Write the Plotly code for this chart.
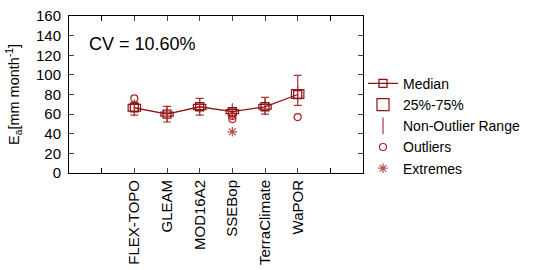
import plotly.graph_objects as go

categories = ["FLEX-TOPO", "GLEAM", "MOD16A2", "SSEBop", "TerraClimate", "WaPOR"]
median = [66.5, 60, 67.5, 62.5, 67.5, 80]
q1 = [63, 58, 64.5, 60.5, 65, 76]
q3 = [70, 62, 70, 64.5, 70, 85]
whisker_lo = [59, 52, 59, 57, 60, 69]
whisker_hi = [72, 68, 76, 66, 77, 99.5]
outlier_cat = ["FLEX-TOPO", "SSEBop", "SSEBop", "WaPOR"]
outlier_val = [76, 58, 55, 57]
extreme_cat = ["SSEBop"]
extreme_val = [42]
yticks = [0, 20, 40, 60, 80, 100, 120, 140, 160]
cv_text = "CV = 10.60%"

pos = {c: i + 2 for i, c in enumerate(categories)}
xs = [pos[c] for c in categories]

dark = "rgb(140,20,20)"
whisk = "rgb(165,55,55)"
font = "Arial, Liberation Sans, sans-serif"

fig = go.Figure()

fig.add_trace(go.Scatter(
    x=xs, y=median, mode="markers", name="Non-Outlier Range",
    marker=dict(symbol="line-ns-open", size=12, color=whisk, line=dict(color=whisk, width=1.2)),
    error_y=dict(type="data", symmetric=False,
                 array=[h - m for h, m in zip(whisker_hi, median)],
                 arrayminus=[m - l for m, l in zip(median, whisker_lo)],
                 color=whisk, thickness=1.2, width=4),
    legendrank=3,
))

fig.add_trace(go.Bar(
    x=xs, y=[b - a for a, b in zip(q1, q3)], base=q1, width=0.38,
    name="25%-75%", marker=dict(color="rgba(255,255,255,0.6)", line=dict(color=dark, width=1.2)),
    legendrank=2,
))

fig.add_trace(go.Scatter(
    x=xs, y=median, mode="lines+markers", name="Median",
    line=dict(color=dark, width=1.3),
    marker=dict(symbol="square-open", size=8, color=dark, line=dict(color=dark, width=1.3)),
    legendrank=1,
))

fig.add_trace(go.Scatter(
    x=[pos[c] for c in outlier_cat], y=outlier_val, mode="markers", name="Outliers",
    marker=dict(symbol="circle-open", size=7, color="rgb(175,30,30)", line=dict(width=1.2)),
    legendrank=4,
))

fig.add_trace(go.Scatter(
    x=[pos[c] for c in extreme_cat], y=extreme_val, mode="markers", name="Extremes",
    marker=dict(symbol="asterisk-open", size=8, color="rgb(185,80,80)", line=dict(width=1.2, color="rgb(185,80,80)")),
    legendrank=5,
))

fig.add_annotation(text=cv_text, xref="paper", yref="paper", x=0.06, y=0.82,
                   xanchor="left", yanchor="middle", showarrow=False,
                   font=dict(size=18, color="black", family=font))

fig.update_layout(
    width=537, height=270,
    margin=dict(l=69, r=171, t=16, b=97),
    paper_bgcolor="white", plot_bgcolor="white",
    font=dict(family=font, size=15, color="black"),
    barmode="overlay",
    showlegend=True,
    legend=dict(x=1.0, y=0.67, xanchor="left", yanchor="top", font=dict(size=14),
                bgcolor="rgba(0,0,0,0)", itemwidth=30, tracegroupgap=0),
    xaxis=dict(range=[0, 9], tickmode="array", tickvals=xs,
               ticktext=categories, tickangle=-90, automargin=False,
               ticks="inside", ticklen=5, showline=True, linecolor="black", linewidth=1,
               mirror="ticks", showgrid=False, zeroline=False, tickfont=dict(size=15),
               minor=dict(ticks="inside", ticklen=5, tick0=0, dtick=1, tickcolor="black", showgrid=False)),
    yaxis=dict(range=[0, 160], tickmode="array", tickvals=yticks, automargin=False,
               ticks="inside", ticklen=5, showline=True, linecolor="black", linewidth=1,
               mirror="ticks", showgrid=False, zeroline=False, tickfont=dict(size=15),
               ticklabelstandoff=4,
               title=dict(text="E<sub>a</sub>[mm month<sup>-1</sup>]", font=dict(size=14.5), standoff=12)),
)

fig.write_html("out.html", config={"displayModeBar": False},
               post_script="document.body.style.margin='0';")
